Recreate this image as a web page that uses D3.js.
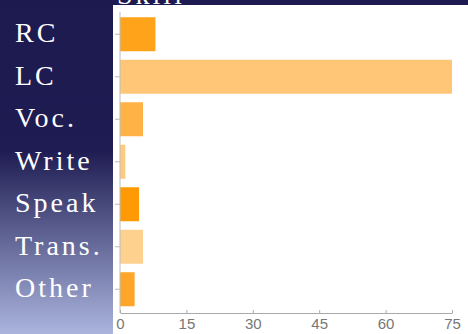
<!DOCTYPE html>
<html><head><meta charset="utf-8">
<script src="https://cdn.jsdelivr.net/npm/d3@7"></script>
<style>html,body{margin:0;padding:0;overflow:hidden;background:#1c1a4f}</style>
</head><body>
<script>
const categories = ["RC","LC","Voc.","Write","Speak","Trans.","Other"];
const values = [8, 75, 5.2, 1.2, 4.3, 5.2, 3.3];
const barColors = ["#ffa31a","#ffc677","#ffb347","#ffca80","#ff9a05","#ffd18f","#ffa52a"];
const tickValues = [0, 15, 30, 45, 60, 75];

const W = 468, H = 334;
const svg = d3.select("body").append("svg").attr("width", W).attr("height", H);
const defs = svg.append("defs");
const grad = defs.append("linearGradient").attr("id","bg").attr("x1",0).attr("y1",0).attr("x2",0).attr("y2",1);
grad.append("stop").attr("offset","0%").attr("stop-color","#1c1a4f");
grad.append("stop").attr("offset","45%").attr("stop-color","#1e1c52");
grad.append("stop").attr("offset","100%").attr("stop-color","#aab4dd");
svg.append("rect").attr("width",W).attr("height",H).attr("fill","url(#bg)");
svg.append("rect").attr("width",W).attr("height",6).attr("fill","#1c1a4f");

// partially hidden title
svg.append("text").attr("x",117).attr("y",4).attr("fill","#fff")
  .attr("font-family","Liberation Serif, serif").attr("font-size",28).attr("letter-spacing",3).text("Skill");

// white panel
svg.append("rect").attr("x",113).attr("y",5).attr("width",W-113).attr("height",H-5).attr("fill","#fff");

const x = d3.scaleLinear().domain([0,75]).range([120,452]);
const y = d3.scaleBand().domain(categories).range([13,310.5]).paddingInner(0.2).paddingOuter(0.1);

svg.append("g").selectAll("rect").data(categories).join("rect")
  .attr("x", x(0)).attr("y", d => y(d))
  .attr("width", (d,i) => x(values[i]) - x(0)).attr("height", y.bandwidth())
  .attr("fill", (d,i) => barColors[i]);

// y axis
const ya = svg.append("g").attr("transform",`translate(${x(0)},0)`)
  .call(d3.axisLeft(y).tickSize(5).tickSizeOuter(0).tickFormat(""));
ya.select(".domain").attr("stroke","#bbb").attr("d",`M0,12V313`);
ya.selectAll(".tick line").attr("stroke","#bbb");

// x axis
const xa = svg.append("g").attr("transform","translate(0,313)")
  .call(d3.axisBottom(x).tickValues(tickValues).tickSize(-3).tickSizeOuter(0).tickPadding(5));
xa.select(".domain").attr("stroke","#aaa");
xa.selectAll(".tick line").attr("stroke","#aaa");
xa.selectAll(".tick text").attr("fill","#777").attr("font-family","Liberation Sans, Arial, sans-serif").attr("font-size",15);

// category labels
svg.append("g").selectAll("text").data(categories).join("text")
  .attr("x",15).attr("y", d => y(d) + y.bandwidth()/2 + 8)
  .attr("fill","#fff").attr("font-family","Liberation Serif, serif")
  .attr("font-size",28).attr("letter-spacing",3).text(d => d);
</script>
</body></html>
